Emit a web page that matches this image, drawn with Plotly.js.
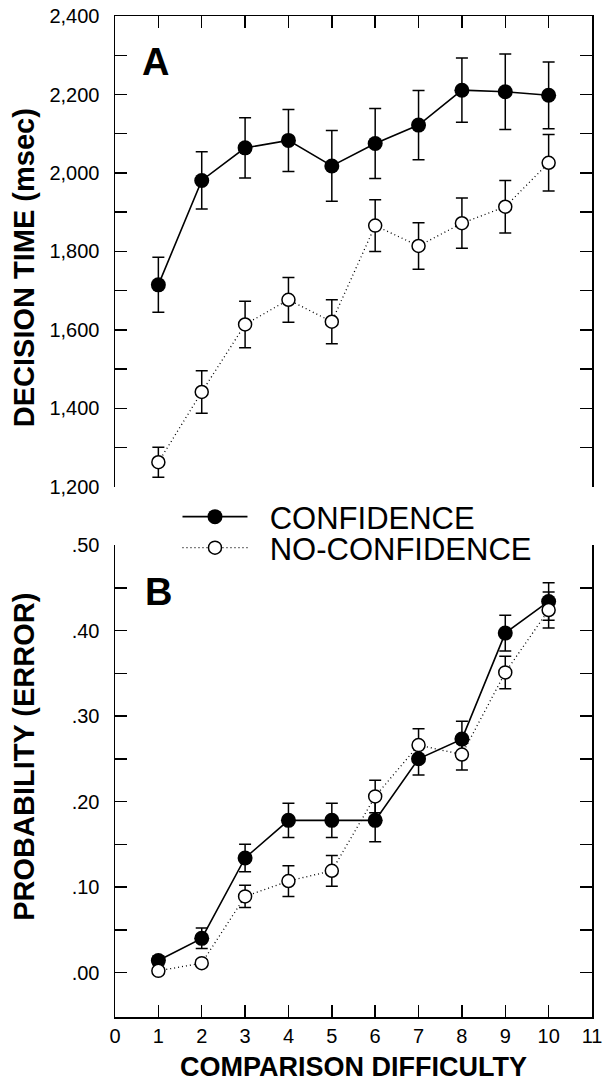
<!DOCTYPE html>
<html>
<head>
<meta charset="utf-8">
<script src="https://cdn.plot.ly/plotly-3.0.1.min.js"></script>
<style>
html,body{margin:0;padding:0;background:#fff;}
#chart{width:604px;height:1082px;}
</style>
</head>
<body>
<div id="chart"></div>
<script>
// ---- data ----
var difficulty = [1, 2, 3, 4, 5, 6, 7, 8, 9, 10];

var confTime      = [1715, 1981, 2064, 2083, 2018, 2075, 2122, 2211, 2207, 2198];
var confTimeSE    = [70, 73, 77, 79, 90, 89, 88, 82, 96, 85];
var noConfTime    = [1263, 1442, 1614, 1677, 1621, 1866, 1814, 1872, 1914, 2026];
var noConfTimeSE  = [38, 54, 59, 57, 56, 66, 59, 64, 67, 72];

var confError     = [0.014, 0.040, 0.134, 0.178, 0.178, 0.178, 0.250, 0.273, 0.397, 0.434];
var confErrorSE   = [0.005, 0.012, 0.016, 0.020, 0.020, 0.025, 0.019, 0.021, 0.021, 0.022];
var noConfError   = [0.002, 0.011, 0.089, 0.107, 0.119, 0.206, 0.266, 0.255, 0.351, 0.424];
var noConfErrorSE = [0.003, 0.004, 0.013, 0.018, 0.018, 0.019, 0.019, 0.018, 0.019, 0.021];

var seriesNames = ["CONFIDENCE", "NO-CONFIDENCE"];

var timeTickVals = [1200, 1300, 1400, 1500, 1600, 1700, 1800, 1900, 2000, 2100, 2200, 2300, 2400];
var timeTickText = ["1,200", "", "1,400", "", "1,600", "", "1,800", "", "2,000", "", "2,200", "", "2,400"];
var probTickVals = [0, 0.05, 0.10, 0.15, 0.20, 0.25, 0.30, 0.35, 0.40, 0.45, 0.50];
var probTickText = [".00", "", ".10", "", ".20", "", ".30", "", ".40", "", ".50"];
var xTickVals = [0, 1, 2, 3, 4, 5, 6, 7, 8, 9, 10, 11];

// ---- styling ----
var FONT = "Liberation Sans, Arial, Helvetica, sans-serif";
var NBSP = "\u00A0\u00A0";

function errBar(arr) {
  return {type: "data", array: arr, visible: true, color: "#000", thickness: 1.5, width: 6};
}
var filledMarker = {symbol: "circle", size: 15, color: "#000", line: {color: "#000", width: 0}};
var openMarker = {symbol: "circle", size: 13, color: "#fff", line: {color: "#000", width: 1.5}};
var solidLine = {color: "#000", width: 1.6};
var dotLine = {color: "#000", width: 1.3, dash: "1px,3px"};

var traces = [
  {x: difficulty, y: confTime, error_y: errBar(confTimeSE), mode: "lines+markers",
   name: NBSP + seriesNames[0], line: solidLine, marker: filledMarker,
   xaxis: "x", yaxis: "y", legend: "legend", showlegend: true},
  {x: difficulty, y: noConfTime, error_y: errBar(noConfTimeSE), mode: "lines+markers",
   name: NBSP + seriesNames[1], line: dotLine, marker: openMarker,
   xaxis: "x", yaxis: "y", legend: "legend2", showlegend: true},
  {x: difficulty, y: confError, error_y: errBar(confErrorSE), mode: "lines+markers",
   name: seriesNames[0], line: solidLine, marker: filledMarker,
   xaxis: "x2", yaxis: "y2", showlegend: false},
  {x: difficulty, y: noConfError, error_y: errBar(noConfErrorSE), mode: "lines+markers",
   name: seriesNames[1], line: dotLine, marker: openMarker,
   xaxis: "x2", yaxis: "y2", showlegend: false}
];

var yCommon = {
  showline: true, linecolor: "#000", linewidth: 1.5, mirror: "ticks",
  ticks: "inside", ticklen: 12, tickwidth: 1.5, tickcolor: "#000",
  showgrid: false, zeroline: false, tickmode: "array",
  tickfont: {family: FONT, size: 20, color: "#000"}, ticklabelstandoff: 10
};

var legendCommon = {
  xanchor: "left", yanchor: "middle", bgcolor: "rgba(0,0,0,0)",
  borderwidth: 0, itemwidth: 65, font: {family: FONT, size: 31, color: "#000"},
  itemclick: false, itemdoubleclick: false
};

var layout = {
  width: 604, height: 1082,
  margin: {l: 115, r: 12, t: 16, b: 65, pad: 0},
  paper_bgcolor: "#fff", plot_bgcolor: "#fff",
  font: {family: FONT, color: "#000"},
  xaxis: {
    domain: [0, 1], anchor: "y", side: "top", range: [0, 11],
    showline: true, linecolor: "#000", linewidth: 1.5, mirror: false,
    ticks: "inside", ticklen: 12, tickwidth: 1.5, tickcolor: "#000",
    tickmode: "array", tickvals: xTickVals, showticklabels: false,
    showgrid: false, zeroline: false
  },
  yaxis: Object.assign({}, yCommon, {
    domain: [0.5295, 1], anchor: "x", range: [1200, 2400],
    tickvals: timeTickVals, ticktext: timeTickText
  }),
  xaxis2: {
    domain: [0, 1], anchor: "y2", side: "bottom", range: [0, 11],
    showline: true, linecolor: "#000", linewidth: 1.5, mirror: false,
    ticks: "inside", ticklen: 12, tickwidth: 1.5, tickcolor: "#000",
    tickmode: "array", tickvals: xTickVals,
    tickfont: {family: FONT, size: 20, color: "#000"},
    showgrid: false, zeroline: false
  },
  yaxis2: Object.assign({}, yCommon, {
    domain: [0, 0.4715], anchor: "x2", range: [-0.052, 0.5],
    tickvals: probTickVals, ticktext: probTickText
  }),
  legend: Object.assign({}, legendCommon, {x: 0.131, y: 0.4995}),
  legend2: Object.assign({}, legendCommon, {x: 0.131, y: 0.4685}),
  annotations: [
    {text: "<b>A</b>", xref: "x", yref: "y", x: 0.94, y: 2282, showarrow: false,
     font: {family: FONT, size: 38, color: "#000"}, xanchor: "center", yanchor: "middle"},
    {text: "<b>B</b>", xref: "x2", yref: "y2", x: 1.01, y: 0.445, showarrow: false,
     font: {family: FONT, size: 38, color: "#000"}, xanchor: "center", yanchor: "middle"},
    {text: "<b>DECISION TIME (msec)</b>", xref: "paper", yref: "paper", x: -0.1908, y: 0.749,
     textangle: -90, showarrow: false, font: {family: FONT, size: 29, color: "#000"},
     xanchor: "center", yanchor: "middle"},
    {text: "<b>PROBABILITY (ERROR)</b>", xref: "paper", yref: "paper", x: -0.1908, y: 0.26,
     textangle: -90, showarrow: false, font: {family: FONT, size: 29, color: "#000"},
     xanchor: "center", yanchor: "middle"},
    {text: "<b>COMPARISON DIFFICULTY</b>", xref: "paper", yref: "paper", x: 0.5, y: -0.0495,
     showarrow: false, font: {family: FONT, size: 27, color: "#000"},
     xanchor: "center", yanchor: "middle", borderpad: 0}
  ]
};

Plotly.newPlot("chart", traces, layout, {staticPlot: true, displayModeBar: false});
</script>
</body>
</html>
